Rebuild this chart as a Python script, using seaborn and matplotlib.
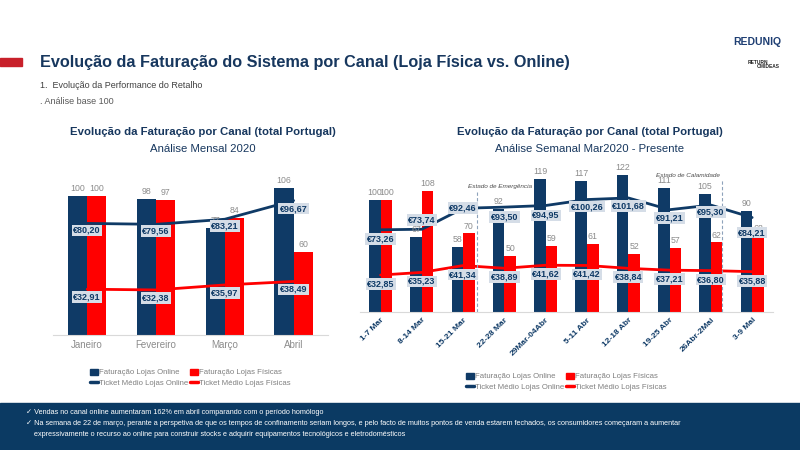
import numpy as np
import pandas as pd
import seaborn as sns
import matplotlib.pyplot as plt
from matplotlib.patches import Rectangle, Patch
from matplotlib.lines import Line2D

# data
meses = ['Janeiro', 'Fevereiro', 'Março', 'Abril']
mes_online = [100, 98, 77, 106]
mes_fisicas = [100, 97, 84, 60]
mes_ticket_online = [80.20, 79.56, 83.21, 96.67]
mes_ticket_fisicas = [32.91, 32.38, 35.97, 38.49]

semanas = ['1-7 Mar', '8-14 Mar', '15-21 Mar', '22-28 Mar', '29Mar-04Abr',
           '5-11 Abr', '12-18 Abr', '19-25 Abr', '26Abr-2Mai', '3-9 Mai']
sem_online = [100, 67, 58, 92, 119, 117, 122, 111, 105, 90]
sem_fisicas = [100, 108, 70, 50, 59, 61, 52, 57, 62, 68]
sem_ticket_online = [73.26, 73.74, 92.46, 93.50, 94.95, 100.26, 101.68, 91.21, 95.30, 84.21]
sem_ticket_fisicas = [32.85, 35.23, 41.34, 38.89, 41.62, 41.42, 38.84, 37.21, 36.80, 35.88]

# colors
navy = '#0f3a66'
red = '#ff0000'
grey = '#8c8c8c'
box = '#d5dde7'

sns.set_style('white')
plt.rcParams['font.family'] = ['Liberation Sans', 'DejaVu Sans']

fig = plt.figure(figsize=(8, 4.5), dpi=100)


def euro(v):
    return '€' + f'{v:.2f}'.replace('.', ',')


def draw_chart(ax, cats, online, fisicas, t_on, t_fis, ymax, on_off, fis_off, rot):
    n = len(cats)
    df = pd.DataFrame({'cat': cats * 2,
                       'valor': online + fisicas,
                       'serie': ['Faturação Lojas Online'] * n + ['Faturação Lojas Físicas'] * n})
    sns.barplot(data=df, x='cat', y='valor', hue='serie', palette=[navy, red], saturation=1,
                width=0.56, gap=0, linewidth=0, ax=ax, legend=False)
    for c in ax.containers:
        ax.bar_label(c, fontsize=6.3, color=grey, padding=2)
    x = np.arange(n)
    sns.lineplot(x=x, y=t_on, color=navy, lw=2, ax=ax)
    sns.lineplot(x=x, y=t_fis, color=red, lw=2, ax=ax)
    for xi, v, o in zip(x, t_on, on_off):
        ax.annotate(euro(v), (xi, v), xytext=(0, o), textcoords='offset pixels',
                    ha='center', va='center', fontsize=6.5, fontweight='bold', color=navy,
                    bbox=dict(boxstyle='square,pad=0.15', fc=box, ec='none'))
    for xi, v, o in zip(x, t_fis, fis_off):
        ax.annotate(euro(v), (xi, v), xytext=(0, o), textcoords='offset pixels',
                    ha='center', va='center', fontsize=6.5, fontweight='bold', color=navy,
                    bbox=dict(boxstyle='square,pad=0.15', fc=box, ec='none'))
    ax.set_xlim(-0.5, n - 0.5)
    ax.set_ylim(0, ymax)
    ax.set_xlabel('')
    ax.set_ylabel('')
    ax.set_yticks([])
    for s in ['top', 'right', 'left']:
        ax.spines[s].set_visible(False)
    ax.spines['bottom'].set_color('#d9d9d9')
    ax.set_xticks(np.arange(-0.5, n), minor=True)
    ax.tick_params(axis='x', which='major', length=0)
    ax.tick_params(axis='x', which='minor', length=4, color='#d9d9d9')
    if rot:
        ax.set_xticks(x, cats, rotation=45, ha='right', rotation_mode='anchor',
                      fontsize=6, fontweight='bold', color=navy)
    else:
        ax.set_xticks(x, cats, fontsize=7, color=grey)
    ax.patch.set_alpha(0)


def legend(ax, y):
    h = [Patch(color=navy), Line2D([], [], color=navy, lw=2.5),
         Patch(color=red), Line2D([], [], color=red, lw=2.5)]
    l = ['Faturação Lojas Online', 'Ticket Médio Lojas Online',
         'Faturação Lojas Físicas', 'Ticket Médio Lojas Físicas']
    leg = ax.legend(h, l, ncol=2, loc='center', bbox_to_anchor=(0.5, y), frameon=False,
                    fontsize=5.6, handlelength=1.0, handleheight=0.8, handletextpad=0.15,
                    columnspacing=0.3, labelspacing=0.35)
    for t in leg.get_texts():
        t.set_color('#7f7f7f')


# monthly chart
ax1 = fig.add_axes([0.066, 0.2556, 0.344, 0.34])
draw_chart(ax1, meses, mes_online, mes_fisicas, mes_ticket_online, mes_ticket_fisicas,
           110, [-7, -7, -7, -8], [-8, -8, -8, -8], False)
legend(ax1, -0.28)

# weekly chart
ax2 = fig.add_axes([0.45, 0.307, 0.516, 0.3236])
draw_chart(ax2, semanas, sem_online, sem_fisicas, sem_ticket_online, sem_ticket_fisicas,
           130, [-9, 9, 0, -10, -10, -7, -8, -8, -7, -15], [-9] * 10, True)
legend(ax2, -0.48)
for xv, top, ty, txt, ha, dx in [(2.33, 108, 112, 'Estado de Emergência', 'left', -0.22),
                                 (8.28, 118, 122, 'Estado de Calamidade', 'right', -0.05)]:
    ax2.plot([xv, xv], [0, top], ls=(0, (3, 2)), color='#8ea3bb', lw=0.8)
    ax2.text(xv + dx, ty, txt, ha=ha, va='center',
             fontsize=4.6, style='italic', color='#4d4d4d')

# header
fig.patches.append(Rectangle((0, 1 - 66 / 450), 22 / 800, 8 / 450, transform=fig.transFigure,
                             color='#c8202a'))
fig.text(40 / 800, 1 - 62 / 450, 'Evolução da Faturação do Sistema por Canal (Loja Física vs. Online)',
         fontsize=11.7, fontweight='bold', color='#17375e', va='center')
fig.text(40 / 800, 1 - 85 / 450, '1.  Evolução da Performance do Retalho', fontsize=6.5,
         color='#404040', va='center')
fig.text(40 / 800, 1 - 101 / 450, '. Análise base 100', fontsize=6.5, color='#595959', va='center')
fig.text(733 / 800, 1 - 42 / 450, 'REDUNIQ', fontsize=7.5, fontweight='bold', color='#1f3f73',
         va='center')
fig.text(748 / 800, 1 - 62 / 450, 'RETURN', fontsize=3.5, fontweight='bold', color='#222222',
         va='center')
fig.text(757 / 800, 1 - 67 / 450, 'OMIDEAS', fontsize=3.5, fontweight='bold', color='#222222',
         va='center')

# chart titles
for cx, sub in [(203, 'Análise Mensal 2020'), (590, 'Análise Semanal Mar2020 - Presente')]:
    fig.text(cx / 800, 1 - 132 / 450, 'Evolução da Faturação por Canal (total Portugal)',
             fontsize=8.2, fontweight='bold', color='#17375e', ha='center', va='center')
    fig.text(cx / 800, 1 - 149 / 450, sub, fontsize=8.2, color='#17375e', ha='center', va='center')

# bottom box
fig.patches.append(Rectangle((0, 0), 1, 47 / 450, transform=fig.transFigure, color='#0b3a63',
                             zorder=0))
notes = ['✓ Vendas no canal online aumentaram 162% em abril comparando com o período homólogo',
         '✓ Na semana de 22 de março, perante a perspetiva de que os tempos de confinamento seriam longos, '
         'e pelo facto de muitos pontos de venda estarem fechados, os consumidores começaram a aumentar',
         '    expressivamente o recurso ao online para construir stocks e adquirir equipamentos '
         'tecnológicos e eletrodomésticos']
for i, t in enumerate(notes):
    fig.text(26 / 800, 1 - (413 + i * 10.5) / 450, t, fontsize=5.2, color='white', va='center',
             family=['Liberation Sans Narrow', 'Liberation Sans', 'DejaVu Sans'])

fig.savefig('out.png', dpi=100)
